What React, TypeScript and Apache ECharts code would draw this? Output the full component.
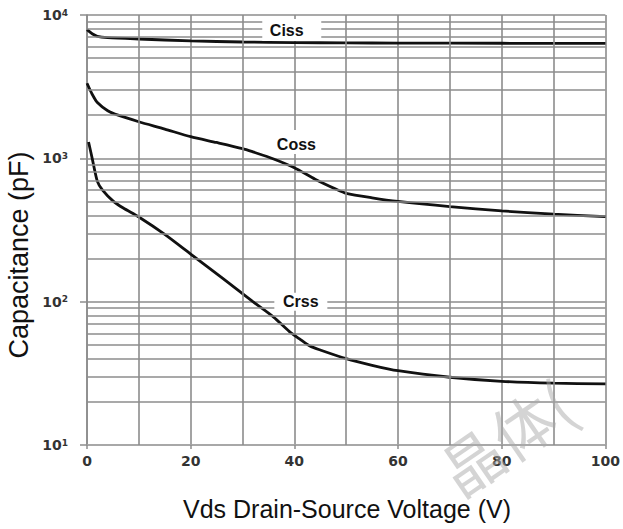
import React, { useEffect, useRef } from "react";
import * as echarts from "echarts";

// Capacitance vs drain-source voltage (pF), sampled along each curve
const cissVds = [0, 1, 2, 4, 10, 20, 30, 40, 50, 60, 80, 100];
const cissPf = [7900, 7400, 7100, 6950, 6800, 6600, 6480, 6420, 6390, 6370, 6350, 6340];

const cossVds = [0, 1, 2, 4, 6, 10, 15, 20, 25, 30, 32, 36, 40, 44, 48, 50, 55, 60, 70, 80, 90, 100];
const cossPf = [3340, 2800, 2450, 2150, 2000, 1800, 1600, 1415, 1290, 1170, 1110, 990, 860, 715, 610, 570, 530, 500, 460, 430, 408, 392];

const crssVds = [0.3, 1, 2, 3, 5, 7, 10, 15, 20, 26, 32, 36, 39, 41, 43, 45, 50, 55, 60, 70, 80, 90, 100];
const crssPf = [1300, 1000, 690, 600, 505, 450, 390, 295, 215, 147, 100, 78, 62, 55, 49, 46, 40, 36, 33, 29.7, 27.8, 27, 26.7];

// Curve name tags: [name, Vds, pF]
const curveTags: [string, number, number][] = [
  ["Ciss", 39.5, 7860],
  ["Coss", 40.4, 1300],
  ["Crss", 41.25, 100],
];

// Intermediate grid lines
const xMinorGrid = [10, 30, 50, 70, 90];
const yMinorGrid = [
  20, 30, 40, 50, 60, 70, 80, 90,
  200, 300, 400, 500, 600, 700, 800, 900,
  2000, 3000, 4000, 5000, 6000, 7000, 8000, 9000,
];

const xTitle = "Vds Drain-Source Voltage (V)";
const yTitle = "Capacitance (pF)";
const watermark = "晶体(";

const pairs = (xs: number[], ys: number[]) => xs.map((x, i) => [x, ys[i]]);

const GRID = "#8c8c8c";
const INK = "#111";
const tickFont = { fontFamily: "DejaVu Sans", fontWeight: "bold" as const, fontSize: 14, color: "#333" };

export default function App() {
  const ref = useRef<HTMLDivElement>(null);

  useEffect(() => {
    const chart = echarts.init(ref.current!, undefined, { renderer: "svg" });

    const tagStyles: Record<string, { size: number[]; offset: number[] }> = {
      Ciss: { size: [59, 22], offset: [-5, 1] },
      Coss: { size: [52, 24], offset: [0, 2] },
      Crss: { size: [53, 18], offset: [0, 0] },
    };

    const curve = (name: string, xs: number[], ys: number[]) => {
      const tag = curveTags.find((t) => t[0] === name)!;
      const st = tagStyles[name];
      return {
        name,
        type: "line",
        z: 3,
        data: pairs(xs, ys),
        showSymbol: false,
        symbol: "none",
        smooth: 0.25,
        lineStyle: { color: INK, width: 2.8 },
        markPoint: {
          silent: true,
          symbol: "rect",
          symbolSize: st.size,
          itemStyle: { color: "#ffffff" },
          label: {
            show: true,
            position: "inside",
            formatter: name,
            offset: st.offset,
            fontFamily: "Liberation Sans",
            fontWeight: "bold",
            fontSize: 16,
            color: INK,
          },
          data: [{ coord: [tag[1], tag[2]] }],
        },
      };
    };

    chart.setOption({
      animation: false,
      backgroundColor: "#ffffff",
      grid: { left: 87, right: 16, top: 15, bottom: 84 },
      xAxis: {
        type: "value",
        min: 0,
        max: 100,
        interval: 20,
        axisLine: { show: true, lineStyle: { color: "#a8a8a8", width: 1.5 } },
        axisTick: { show: true, length: 4, lineStyle: { color: GRID, width: 1.5 } },
        axisLabel: { margin: 9, ...tickFont },
        splitLine: { show: true, lineStyle: { color: GRID, width: 1.6 } },
      },
      yAxis: {
        type: "log",
        logBase: 10,
        min: 10,
        max: 10000,
        axisLine: { show: true, lineStyle: { color: GRID, width: 1.6 } },
        axisTick: { show: true, length: 7, lineStyle: { color: GRID, width: 1.5 } },
        axisLabel: {
          margin: 19,
          formatter: (v: number) => `{b|10}{s|${Math.round(Math.log10(v))}}`,
          rich: {
            b: { ...tickFont },
            s: { ...tickFont, fontSize: 9, verticalAlign: "top", lineHeight: 13 },
          },
        },
        splitLine: { show: true, lineStyle: { color: GRID, width: 1.6 } },
      },
      series: [
        {
          name: "grid",
          type: "line",
          z: 1,
          data: [],
          silent: true,
          markLine: {
            silent: true,
            symbol: "none",
            label: { show: false },
            lineStyle: { color: GRID, width: 1.6, type: "solid" },
            data: [
              ...xMinorGrid.map((v) => ({ xAxis: v })),
              ...yMinorGrid.map((v) => ({ yAxis: v })),
            ],
          },
        },
        curve("Ciss", cissVds, cissPf),
        curve("Coss", cossVds, cossPf),
        curve("Crss", crssVds, crssPf),
      ],
      graphic: [
        {
          type: "text",
          x: 347,
          y: 509,
          silent: true,
          style: {
            text: xTitle,
            fontFamily: "Liberation Sans",
            fontSize: 25,
            fill: INK,
            textAlign: "center",
            textVerticalAlign: "middle",
          },
        },
        {
          type: "text",
          x: 19,
          y: 255,
          rotation: Math.PI / 2,
          silent: true,
          style: {
            text: yTitle,
            fontFamily: "Liberation Sans",
            fontSize: 27,
            fill: INK,
            textAlign: "center",
            textVerticalAlign: "middle",
          },
        },
        {
          type: "text",
          x: 505,
          y: 436,
          rotation: 0.6,
          silent: true,
          z: 100,
          style: {
            text: watermark,
            fontFamily: "Noto Sans CJK SC",
            fontSize: 62,
            fill: "rgba(170,170,170,0.5)",
            textAlign: "center",
            textVerticalAlign: "middle",
          },
        },
      ],
    });

    return () => chart.dispose();
  }, []);

  return (
    <div
      ref={ref}
      style={{ position: "absolute", left: 0, top: 0, width: 623, height: 529 }}
    />
  );
}
